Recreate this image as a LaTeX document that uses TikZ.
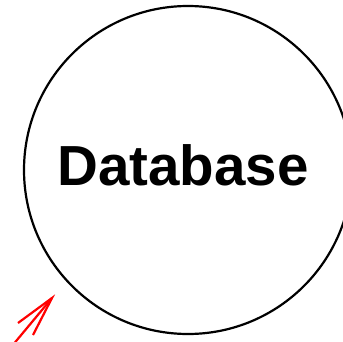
\documentclass[tikz,border=0pt]{standalone}
\usepackage{fontspec}
\setmainfont{Liberation Sans}
\begin{document}
\begin{tikzpicture}[x=1pt,y=1pt,
  dbcircle/.style={circle, draw=black, line width=2.2pt, minimum size=328pt, inner sep=0pt},
  dblabel/.style={font=\bfseries\fontsize{56.5}{62}\selectfont, inner sep=0pt, anchor=base},
  redarrow/.style={draw=red, line width=2.2pt}]
\useasboundingbox (0,0) rectangle (343,341);
\clip (0,0) rectangle (343,341);
\node[dbcircle] (db) at (188,171) {};
\node[dblabel] (lbl) at (183,156) {Database};
\coordinate (tip) at (52,43);
\coordinate (tail) at (12,-5);
\coordinate (w1) at (18,18);
\coordinate (w2) at (33,6);
\draw[redarrow] (tail) -- (tip);
\draw[redarrow] (w1) -- (tip) -- (w2);
\end{tikzpicture}
\end{document}
